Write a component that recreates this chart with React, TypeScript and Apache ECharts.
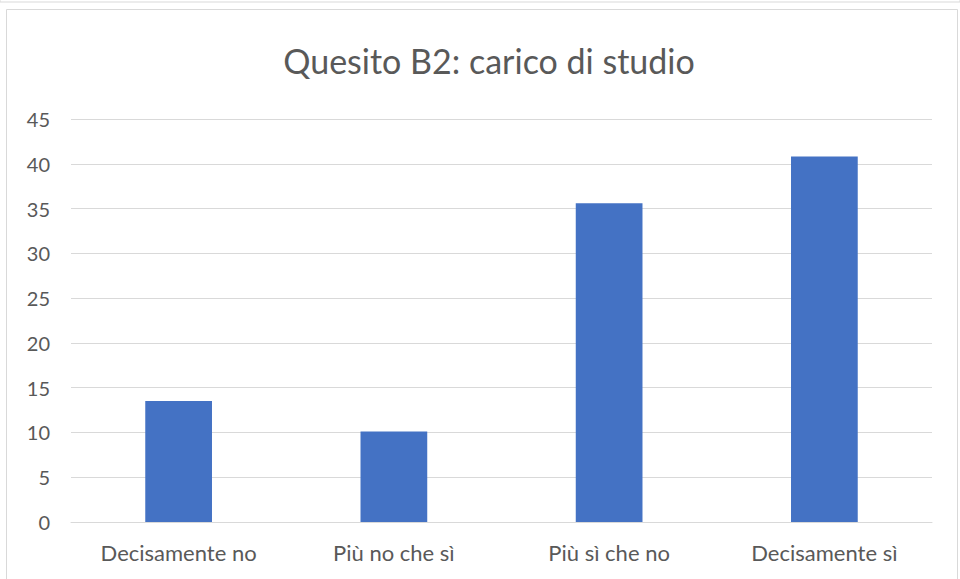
import React, { useEffect, useRef } from "react";
import * as echarts from "echarts";

const categories = ["Decisamente no", "Più no che sì", "Più sì che no", "Decisamente sì"];
const values = [13.5, 10.1, 35.6, 40.8];
const titleText = "Quesito B2: carico di studio";

export default function App() {
  const ref = useRef<HTMLDivElement>(null);
  useEffect(() => {
    document.body.style.margin = "0";
    const chart = echarts.init(ref.current!, null, { renderer: "svg" });
    const font = "Lato";
    chart.setOption({
      animation: false,
      backgroundColor: "#ffffff",
      title: {
        text: titleText,
        left: 484,
        textAlign: "center",
        top: 38,
        textStyle: { fontFamily: font, fontSize: 34, fontWeight: "normal", color: "#595959" },
      },
      graphic: [
        { type: "rect", shape: { x: 0, y: -10, width: 960, height: 12 }, style: { fill: "none", stroke: "#d9d9d9", lineWidth: 1 } },
        { type: "rect", shape: { x: 6.5, y: 9.5, width: 951, height: 580 }, style: { fill: "none", stroke: "#d9d9d9", lineWidth: 1 } },
      ],
      grid: { left: 71, right: 28, top: 119, bottom: 57 },
      xAxis: {
        type: "category",
        data: categories,
        axisTick: { show: false },
        axisLine: { lineStyle: { color: "#d9d9d9", width: 1 } },
        axisLabel: { fontFamily: font, fontSize: 22, color: "#595959", margin: 19 },
      },
      yAxis: {
        type: "value",
        min: 0,
        max: 45,
        interval: 5,
        axisLine: { show: false },
        axisTick: { show: false },
        splitLine: { lineStyle: { color: "#d9d9d9", width: 1 } },
        axisLabel: { fontFamily: font, fontSize: 20, color: "#595959", margin: 21 },
      },
      series: [
        {
          type: "bar",
          data: values,
          barWidth: "31%",
          itemStyle: { color: "#4472c4" },
        },
      ],
    });
    return () => chart.dispose();
  }, []);
  return <div ref={ref} style={{ width: 960, height: 579 }} />;
}
